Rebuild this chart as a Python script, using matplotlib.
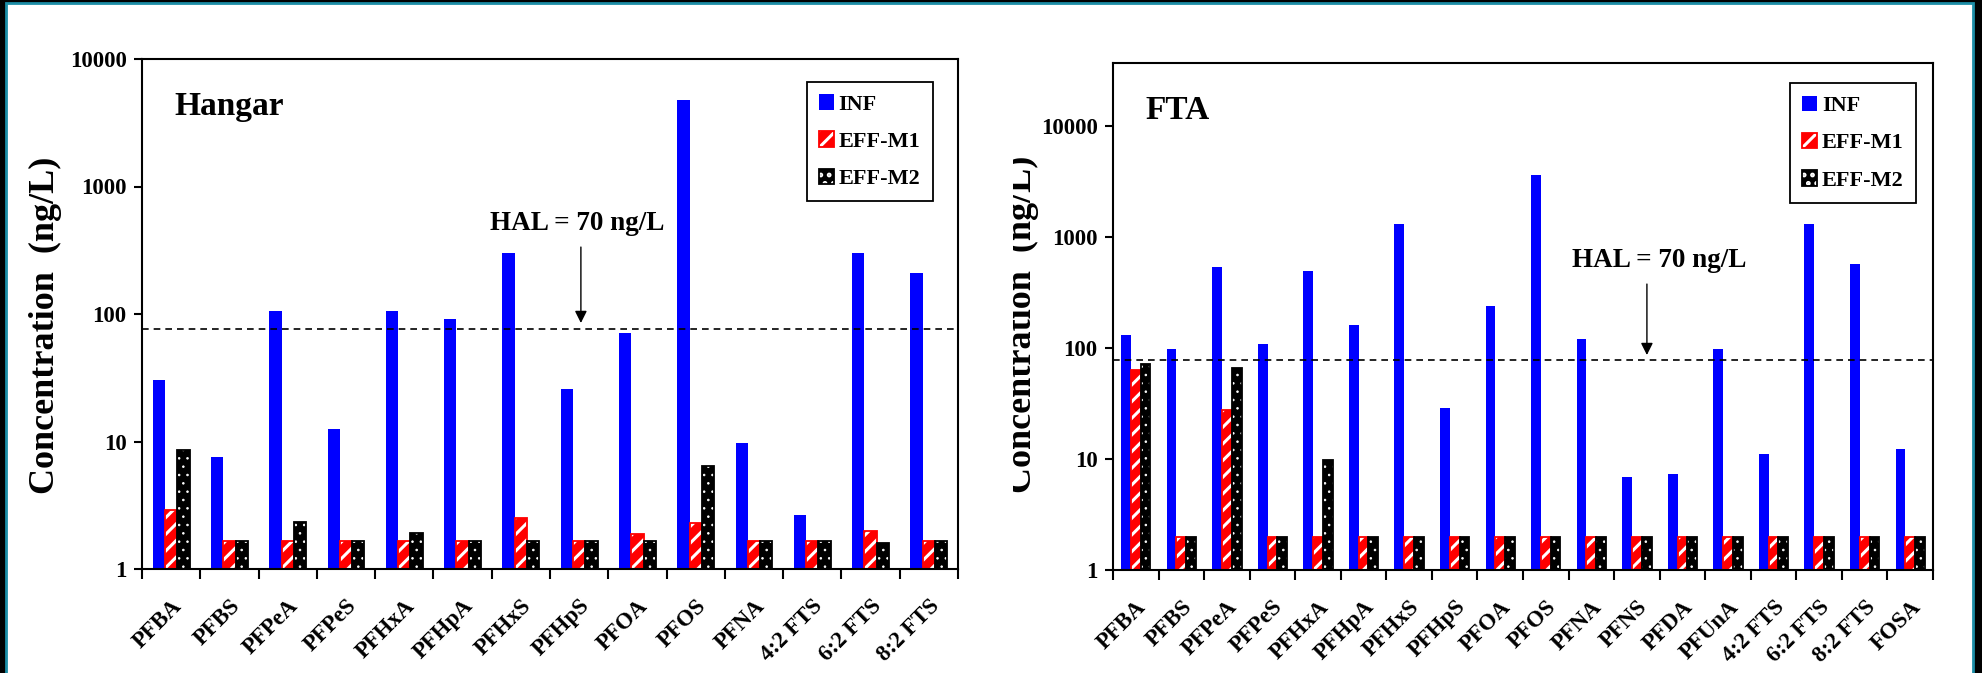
import numpy as np
import matplotlib
matplotlib.use("Agg")
import matplotlib.pyplot as plt
from matplotlib.patches import Patch, Rectangle
from matplotlib.ticker import NullLocator
from matplotlib.transforms import Bbox

plt.rcParams['font.family'] = ['Liberation Serif', 'DejaVu Serif']
plt.rcParams['font.weight'] = 'bold'
plt.rcParams['hatch.linewidth'] = 2.2

# Hangar site (ng/L)
hangar_names = ["PFBA", "PFBS", "PFPeA", "PFPeS", "PFHxA", "PFHpA", "PFHxS",
                "PFHpS", "PFOA", "PFOS", "PFNA", "4:2 FTS", "6:2 FTS", "8:2 FTS"]
hangar_inf = [30.5, 7.6, 106, 12.5, 106, 92, 300, 25.8, 71, 4800, 9.7, 2.65, 302, 211]
hangar_m1 = [2.9, 1.66, 1.66, 1.66, 1.66, 1.66, 2.5, 1.66, 1.88, 2.3, 1.66, 1.66, 1.99, 1.66]
hangar_m2 = [8.6, 1.66, 2.35, 1.66, 1.93, 1.66, 1.66, 1.66, 1.66, 6.4, 1.66, 1.66, 1.6, 1.66]

# FTA site (ng/L)
fta_names = ["PFBA", "PFBS", "PFPeA", "PFPeS", "PFHxA", "PFHpA", "PFHxS", "PFHpS",
             "PFOA", "PFOS", "PFNA", "PFNS", "PFDA", "PFUnA", "4:2 FTS", "6:2 FTS",
             "8:2 FTS", "FOSA"]
fta_inf = [131, 97, 540, 109, 490, 160, 1300, 28.8, 240, 3600, 120, 6.9, 7.3, 99,
           11.0, 1300, 570, 12.2]
fta_m1 = [63, 2.0, 27.6, 2.0, 2.0, 2.0, 2.0, 2.0, 2.0, 2.0, 2.0, 2.0, 2.0, 2.0,
          2.0, 2.0, 2.0, 2.0]
fta_m2 = [72, 2.0, 66, 2.0, 9.7, 2.0, 2.0, 2.0, 2.0, 2.0, 2.0, 2.0, 2.0, 2.0,
          2.0, 2.0, 2.0, 2.0]

yticks = [1, 10, 100, 1000, 10000]
series_labels = ["INF", "EFF-M1", "EFF-M2"]


def dotted(**kw):
    # small white dots on black
    with plt.rc_context({'hatch.linewidth': 0.6}):
        return Patch(facecolor='black', edgecolor='white', hatch='..', linewidth=0, **kw)


def draw_panel(ax, names, inf, m1, m2, w, ymax, title, hal_line, hal_text_xy,
               arrow_x, arrow_top, arrow_bot, leg_anchor):
    n = len(names)
    x = np.arange(n) + 0.5
    ax.set_yscale('log')
    ax.bar(x - w, inf, w, color='#0000ff', edgecolor='none')
    ax.bar(x, m1, w, facecolor='red', edgecolor='white', hatch='//', linewidth=0)
    ax.bar(x, m1, w, fill=False, edgecolor='red', linewidth=1.3)
    with plt.rc_context({'hatch.linewidth': 0.6}):
        ax.bar(x + w, m2, w, facecolor='black', edgecolor='white', hatch='..', linewidth=0)
    ax.bar(x + w, m2, w, fill=False, edgecolor='black', linewidth=1.3)

    ax.axhline(hal_line, color='black', linestyle=(0, (4, 3)), linewidth=1.2)
    ax.text(hal_text_xy[0], hal_text_xy[1], "HAL = 70 ng/L", ha='center',
            va='baseline', fontsize=19.5)
    ax.annotate('', xy=(arrow_x, arrow_bot), xytext=(arrow_x, arrow_top),
                arrowprops=dict(arrowstyle='-|>', color='black', lw=1,
                                mutation_scale=18, shrinkA=0, shrinkB=0))
    ax.text(0.04, 0.89, title, transform=ax.transAxes, fontsize=24,
            ha='left', va='baseline')

    ax.set_xlim(0, n)
    ax.set_ylim(1, ymax)
    ax.set_yticks(yticks)
    ax.set_yticklabels([str(v) for v in yticks])
    ax.yaxis.set_minor_locator(NullLocator())
    ax.set_xticks(np.arange(n + 1))
    ax.set_xticklabels([])
    ax.set_xticks(x, names, minor=True)
    for lbl in ax.get_xticklabels(minor=True):
        lbl.set_rotation(45)
        lbl.set_rotation_mode('anchor')
        lbl.set_ha('right')
        lbl.set_va('top')
    ax.tick_params(axis='y', which='major', direction='out', length=6, width=1.5,
                   labelsize=16.5, pad=5)
    ax.tick_params(axis='x', which='major', direction='out', length=7, width=1.5)
    ax.tick_params(axis='x', which='minor', length=0, labelsize=16.5, pad=19)
    for sp in ax.spines.values():
        sp.set_linewidth(1.5)

    handles = [Patch(facecolor='#0000ff', edgecolor='none'),
               (Patch(facecolor='red', edgecolor='white', hatch='//', linewidth=0),
                Patch(fill=False, edgecolor='red', linewidth=1.3)),
               (dotted(), Patch(fill=False, edgecolor='black', linewidth=1.3))]
    leg = ax.legend(handles, series_labels, loc='upper right', bbox_to_anchor=leg_anchor,
                    fontsize=16, frameon=True, fancybox=False, framealpha=1,
                    edgecolor='black', handlelength=0.7, handleheight=0.7,
                    handletextpad=0.2, labelspacing=0.75, borderpad=0.55,
                    borderaxespad=0)
    leg.get_frame().set_linewidth(1.3)


fig = plt.figure(figsize=(19.82, 6.73), dpi=100, facecolor='black')
border = Rectangle((6 / 1982, -0.02), 1967 / 1982, 1.02 - 3 / 673,
                   transform=fig.transFigure, facecolor='white',
                   edgecolor='#1c8da6', linewidth=2, zorder=-10)
fig.add_artist(border)

ax1 = fig.add_axes([142 / 1982, 104 / 673, 816 / 1982, 510 / 673])
ax2 = fig.add_axes([1113 / 1982, 103 / 673, 820 / 1982, 507 / 673])

draw_panel(ax1, hangar_names, hangar_inf, hangar_m1, hangar_m2, 0.21, 10000,
           "Hangar", 76, (7.47, 456), 7.53, 335, 85, (0.969, 0.955))
draw_panel(ax2, fta_names, fta_inf, fta_m1, fta_m2, 0.215, 37000,
           "FTA", 78, (12.0, 537), 11.72, 377, 86.5, (0.979, 0.96))

fig.text(45 / 1982, 1 - 325 / 673, "Concentration  (ng/L)", rotation=90,
         ha='center', va='center', fontsize=26)
ylab2 = fig.text(1022 / 1982, 1 - 324 / 673, "Concentration  (ng/L)", rotation=90,
                 ha='center', va='center', fontsize=26)
ylab2.set_clip_box(Bbox.from_extents(1013, 0, 1982, 673))
ylab2.set_clip_on(True)

fig.savefig('out.png', dpi=100, facecolor='black')
